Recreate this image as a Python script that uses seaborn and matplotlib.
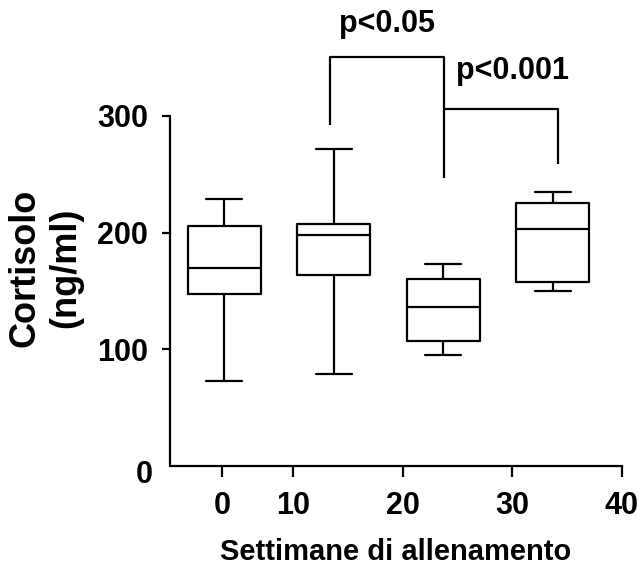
import numpy as np
import pandas as pd
import matplotlib
matplotlib.use("Agg")
import matplotlib.pyplot as plt
import matplotlib.transforms as mtransforms
import seaborn as sns

# five-number summaries (min, Q1, median, Q3, max)
settimane = [3.7, 13.7, 23.7, 33.7]
cort_min = [73, 79, 95, 150]
cort_q1 = [147, 164, 107, 158]
cort_med = [170, 198, 136, 203]
cort_q3 = [206, 207, 160, 225]
cort_max = [229, 272, 173, 235]

xtick_pos = [3.5, 10, 20, 30, 40]
xtick_lab = ["0", "10", "20", "30", "40"]
ytick_pos = [100, 200, 300]

# significance brackets: x left, x right, y top, y left end, y right end
brackets = [(13.35, 23.8, 350.7, 292, 246.5), (23.8, 34.2, 306, 306, 258.5)]
p_labels = ["p<0.05", "p<0.001"]
p_pos = [(18.6, 372), (30.06, 332)]

rows = []
for x, a, b, c, d, e in zip(settimane, cort_min, cort_q1, cort_med, cort_q3, cort_max):
    for v in (a, b, c, d, e):
        rows.append({"settimana": x, "cortisolo": v})
df = pd.DataFrame(rows)

sns.set_style("ticks")
fam = ["Liberation Sans", "DejaVu Sans"]
plt.rcParams["font.family"] = fam
plt.rcParams["font.weight"] = "bold"
for k in ("text.color", "axes.labelcolor", "xtick.color", "ytick.color",
          "axes.edgecolor"):
    plt.rcParams[k] = "black"

fig = plt.figure(figsize=(6.44, 5.70), dpi=100)
ax = fig.add_axes([170 / 644, 104 / 570, (621.7 - 170) / 644, 466 / 570])

sns.boxplot(data=df, x="settimana", y="cortisolo", native_scale=True,
            whis=(0, 100), width=0.663, fill=False, color="black",
            linewidth=1.6, ax=ax)

for (xl, xr, yt, yl, yr) in brackets:
    ax.plot([xl, xl, xr, xr], [yl, yt, yt, yr], color="black", lw=1.6,
            clip_on=False, solid_capstyle="butt")
for lab, (px, py) in zip(p_labels, p_pos):
    ax.text(px, py, lab, ha="center", va="baseline", fontsize=22,
            fontweight="bold")

ax.set_xlim(-1.26, 40)
ax.set_ylim(0, 399.3)
ax.set_xticks(xtick_pos)
ax.set_xticklabels(xtick_lab)
ax.set_yticks(ytick_pos)
ax.tick_params(axis="both", labelsize=22, width=1.6, colors="black")
ax.tick_params(axis="x", length=8, pad=10)
ax.tick_params(axis="y", length=6, pad=10)
for t in ax.get_xticklabels() + ax.get_yticklabels():
    t.set_fontweight("bold")

sns.despine(ax=ax)
ax.spines["left"].set_bounds(0, 300)
ax.spines["bottom"].set_bounds(-1.1, 40)
for s in ("left", "bottom"):
    ax.spines[s].set_linewidth(1.6)
    ax.spines[s].set_color("black")

trans = mtransforms.blended_transform_factory(ax.transAxes, ax.transData)
ax.annotate("0", xy=(0, 0), xycoords=trans, xytext=(-12.5, -6.5),
            textcoords="offset points", ha="right", va="center",
            fontsize=22, fontweight="bold")

ax.set_xlabel("Settimane di allenamento", fontsize=21, fontweight="bold",
              labelpad=12.5)
ax.set_ylabel("Cortisolo\n(ng/ml)", fontsize=26, fontweight="bold")
ax.yaxis.set_label_coords(-0.192, 0.425)

fig.savefig("out.png", dpi=100)
